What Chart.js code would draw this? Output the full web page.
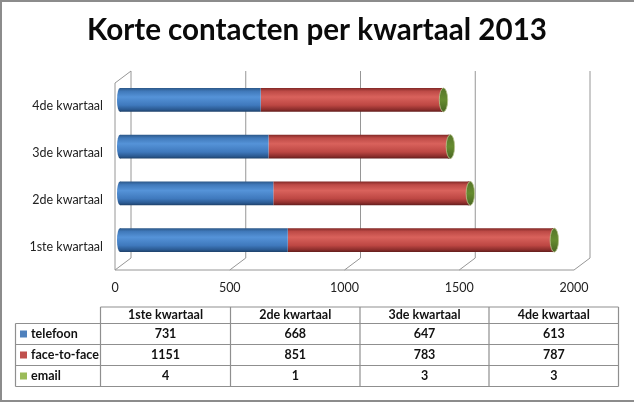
<!DOCTYPE html>
<html>
<head>
<meta charset="utf-8">
<style>html,body{margin:0;padding:0;background:#fff}canvas{display:block}</style>
<script src="https://cdn.jsdelivr.net/npm/chart.js@4"></script>
</head>
<body>
<canvas id="c" width="634" height="402"></canvas>
<script>
const categories = ['1ste kwartaal', '2de kwartaal', '3de kwartaal', '4de kwartaal'];
const telefoon = [731, 668, 647, 613];
const faceToFace = [1151, 851, 783, 787];
const email = [4, 1, 3, 3];
const seriesNames = ['telefoon', 'face-to-face', 'email'];
const swatches = ['#4f81bd', '#c0504d', '#9bbb59'];
const xTicks = [0, 500, 1000, 1500, 2000];
const titleText = 'Korte contacten per kwartaal 2013';

const FONT = 'Lato, Carlito, Calibri, sans-serif';
const GRID = '#969696';
const DEPTH = {x: 16, y: -12};
const BAR_SHIFT = {x: 5, y: -6.5};
const BLUE = [[0,'#2b5686'],[0.14,'#4079ba'],[0.38,'#5593d8'],[0.72,'#3f79bd'],[0.9,'#2b5a92'],[1,'#1d3f66']];
const RED = [[0,'#7f2725'],[0.14,'#bd4a46'],[0.38,'#d9625c'],[0.72,'#bd4743'],[0.9,'#8c2e2c'],[1,'#5f1c1b']];
const GREEN = [[0,'#56752a'],[0.5,'#668c30'],[1,'#486622']];

function cylinder(stops) {
  return function (ctx) {
    const chart = ctx.chart, y = chart.scales.y;
    const c = y && ctx.dataIndex !== undefined ? y.getPixelForValue(ctx.dataIndex) : NaN;
    if (!isFinite(c)) return stops[2][1];
    const h = 12;
    const g = chart.ctx.createLinearGradient(0, c - h, 0, c + h);
    stops.forEach(s => g.addColorStop(s[0], s[1]));
    return g;
  };
}

const walls = {
  id: 'walls',
  beforeDatasetsDraw(chart) {
    const {ctx, chartArea: a, scales: {x}} = chart;
    ctx.save();
    ctx.strokeStyle = GRID;
    ctx.lineWidth = 1;
    ctx.beginPath();
    ctx.moveTo(a.left, a.top);
    ctx.lineTo(a.left, a.bottom);
    ctx.lineTo(a.right, a.bottom);
    ctx.moveTo(a.left, a.top);
    ctx.lineTo(a.left + DEPTH.x, a.top + DEPTH.y);
    xTicks.forEach(v => {
      const p = x.getPixelForValue(v);
      ctx.moveTo(p, a.bottom);
      ctx.lineTo(p + DEPTH.x, a.bottom + DEPTH.y);
      ctx.lineTo(p + DEPTH.x, a.top + DEPTH.y);
    });
    ctx.stroke();
    ctx.restore();
    ctx.save();
    ctx.translate(BAR_SHIFT.x, BAR_SHIFT.y);
  },
  afterDatasetsDraw(chart) {
    const {ctx} = chart;
    const last = chart.getDatasetMeta(2).data;
    const first = chart.getDatasetMeta(0).data;
    first.forEach((bar, i) => {
      const h = bar.height;
      const g = ctx.createLinearGradient(0, bar.y - h / 2, 0, bar.y + h / 2);
      BLUE.forEach(s => g.addColorStop(s[0], s[1]));
      ctx.fillStyle = g;
      ctx.beginPath();
      ctx.ellipse(bar.base, bar.y, 3, h / 2, 0, 0, Math.PI * 2);
      ctx.fill();
      const e = last[i];
      const rg = ctx.createLinearGradient(0, e.y - h / 2, 0, e.y + h / 2);
      RED.forEach(s => rg.addColorStop(s[0], s[1]));
      ctx.fillStyle = rg;
      ctx.fillRect(e.x - 1, e.y - h / 2, 3, h);
      const gg = ctx.createLinearGradient(0, e.y - h / 2, 0, e.y + h / 2);
      GREEN.forEach(s => gg.addColorStop(s[0], s[1]));
      ctx.fillStyle = gg;
      ctx.strokeStyle = '#b9c48f';
      ctx.lineWidth = 0.8;
      ctx.beginPath();
      ctx.ellipse(e.x + 1.5, e.y, 4.2, h / 2, 0, 0, Math.PI * 2);
      ctx.fill();
      ctx.stroke();
    });
    ctx.restore();
  }
};

const dataTable = {
  id: 'dataTable',
  afterDraw(chart) {
    const {ctx, width, height} = chart;
    const cols = [15.5, 100.5, 230.5, 360, 489, 618.5];
    const rows = [307, 323.5, 344.5, 365.5, 386.5];
    const rowData = [telefoon, faceToFace, email];
    ctx.save();
    ctx.fillStyle = '#8c8c8c';
    ctx.fillRect(0, 0, width, 2);
    ctx.fillRect(0, 0, 2, height);
    ctx.fillRect(0, height - 2, width, 2);
    ctx.strokeStyle = '#8f8f8f';
    ctx.lineWidth = 1.2;
    ctx.beginPath();
    ctx.moveTo(cols[1], rows[0]); ctx.lineTo(cols[5], rows[0]);
    for (let r = 1; r < rows.length; r++) { ctx.moveTo(cols[0], rows[r]); ctx.lineTo(cols[5], rows[r]); }
    ctx.moveTo(cols[0], rows[1]); ctx.lineTo(cols[0], rows[4]);
    for (let c = 1; c < cols.length; c++) { ctx.moveTo(cols[c], rows[0]); ctx.lineTo(cols[c], rows[4]); }
    ctx.stroke();
    ctx.fillStyle = '#111';
    ctx.font = 'bold 12.5px ' + FONT;
    ctx.textBaseline = 'middle';
    ctx.textAlign = 'center';
    categories.forEach((t, i) => ctx.fillText(t, (cols[i + 1] + cols[i + 2]) / 2, (rows[0] + rows[1]) / 2));
    rowData.forEach((vals, r) => {
      const y = (rows[r + 1] + rows[r + 2]) / 2;
      vals.forEach((v, i) => ctx.fillText(String(v), (cols[i + 1] + cols[i + 2]) / 2, y));
    });
    ctx.textAlign = 'left';
    seriesNames.forEach((n, r) => {
      const y = (rows[r + 1] + rows[r + 2]) / 2;
      ctx.fillStyle = swatches[r];
      ctx.fillRect(20, y - 3.5, 7, 7);
      ctx.fillStyle = '#111';
      ctx.fillText(n, 31, y);
    });
    ctx.restore();
  }
};

new Chart(document.getElementById('c'), {
  type: 'bar',
  data: {
    labels: categories,
    datasets: [
      {label: seriesNames[0], data: telefoon, backgroundColor: cylinder(BLUE)},
      {label: seriesNames[1], data: faceToFace, backgroundColor: cylinder(RED)},
      {label: seriesNames[2], data: email, backgroundColor: cylinder(GREEN)}
    ]
  },
  options: {
    indexAxis: 'y',
    responsive: false,
    animation: false,
    devicePixelRatio: 1,
    borderWidth: 0,
    categoryPercentage: 0.51,
    barPercentage: 1,
    layout: {padding: 0},
    scales: {
      x: {
        stacked: true, min: 0, max: 2000,
        afterFit: s => { s.height = 132; },
        afterBuildTicks: s => { s.ticks = xTicks.map(v => ({value: v})); },
        grid: {display: false}, border: {display: false},
        ticks: {color: '#222', padding: 2, font: {family: FONT, size: 12.5}, maxRotation: 0, callback: v => String(v)}
      },
      y: {
        stacked: true, reverse: true,
        afterFit: s => { s.width = 115; },
        grid: {display: false}, border: {display: false},
        ticks: {color: '#222', padding: 4, font: {family: FONT, size: 12.5}}
      },
      rightGap: {
        type: 'linear', axis: 'y', position: 'right',
        afterFit: s => { s.width = 60; },
        grid: {display: false}, border: {display: false},
        ticks: {display: false}
      }
    },
    plugins: {
      legend: {display: false},
      tooltip: {enabled: false},
      title: {
        display: true, text: titleText, color: '#0a0a0a',
        font: {family: FONT, size: 29.6, weight: 'bold'},
        padding: {top: 13, bottom: 34.5}
      }
    }
  },
  plugins: [walls, dataTable]
});
</script>
</body>
</html>
